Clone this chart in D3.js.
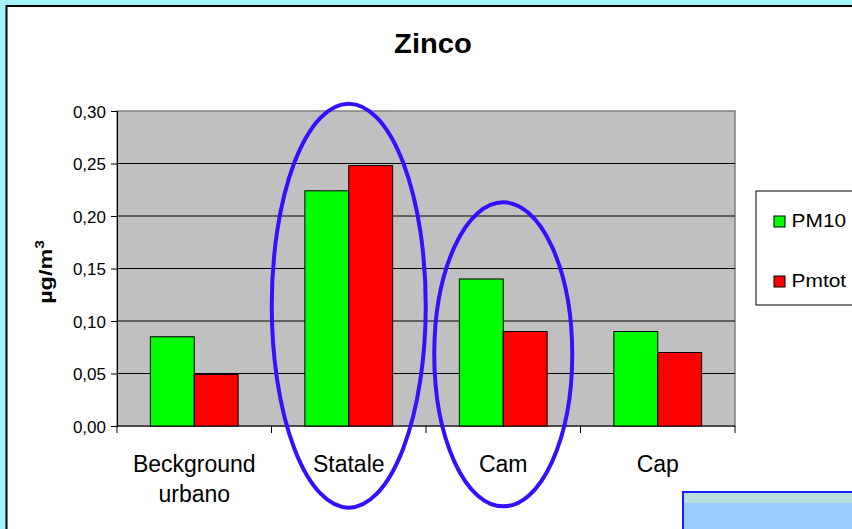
<!DOCTYPE html>
<html>
<head>
<meta charset="utf-8">
<script src="https://cdn.jsdelivr.net/npm/d3@7"></script>
<style>
  body { margin: 0; background: #a4f4fc; }
  svg { display: block; font-family: Arial, "Liberation Sans", sans-serif; }
</style>
</head>
<body>
<svg width="852" height="529"></svg>
<script>
const categories = [["Beckground", "urbano"], ["Statale"], ["Cam"], ["Cap"]];
const seriesNames = ["PM10", "Pmtot"];
const pm10 = [0.085, 0.224, 0.14, 0.09];
const pmtot = [0.049, 0.248, 0.09, 0.07];
const yTicks = [0, 0.05, 0.10, 0.15, 0.20, 0.25, 0.30];
const colors = ["#00ff00", "#ff0000"];
const highlighted = [1, 2]; // Statale, Cam

const width = 852, height = 529;
const margin = { top: 111, left: 117, right: 117, bottom: 103 };

const svg = d3.select("svg");

// outer frame
svg.append("rect").attr("width", width).attr("height", height).attr("fill", "#a4f4fc");
svg.append("rect")
  .attr("x", 6.5).attr("y", 6).attr("width", width).attr("height", height)
  .attr("fill", "#fff").attr("stroke", "#000").attr("stroke-width", 2);

// title
svg.append("text")
  .attr("x", 433).attr("y", 53)
  .attr("text-anchor", "middle")
  .attr("transform", "translate(433,0) scale(1.08,1) translate(-433,0)")
  .style("font-size", "27px").style("font-weight", "bold")
  .text("Zinco");

const x0 = d3.scaleBand()
  .domain(d3.range(categories.length))
  .range([margin.left, width - margin.right]);

const x1 = d3.scaleBand()
  .domain(d3.range(seriesNames.length))
  .range([0, x0.bandwidth()])
  .paddingOuter(0.76)
  .paddingInner(0);

const y = d3.scaleLinear()
  .domain([0, 0.30])
  .range([height - margin.bottom, margin.top]);

// plot area
svg.append("rect")
  .attr("x", x0.range()[0]).attr("y", y(0.30))
  .attr("width", x0.range()[1] - x0.range()[0]).attr("height", y(0) - y(0.30))
  .attr("fill", "#c0c0c0").attr("stroke", "#808080").attr("stroke-width", 1.5);

// gridlines
svg.append("g").selectAll("line")
  .data(yTicks.filter(d => d > 0 && d < 0.30))
  .join("line")
  .attr("x1", x0.range()[0]).attr("x2", x0.range()[1])
  .attr("y1", d => y(d)).attr("y2", d => y(d))
  .attr("stroke", "#000").attr("stroke-width", 1);

// y axis
const yAxis = d3.axisLeft(y)
  .tickValues(yTicks)
  .tickSize(6)
  .tickPadding(5)
  .tickFormat(d => d3.format(".2f")(d).replace(".", ","));

svg.append("g")
  .attr("transform", `translate(${margin.left},0)`)
  .call(yAxis)
  .call(g => g.selectAll("text").style("font-size", "17px").attr("fill", "#000").attr("dy", "0.36em"))
  .call(g => g.selectAll("line, path").attr("stroke", "#000"));

// x axis
const xAxisG = svg.append("g")
  .attr("transform", `translate(0,${y(0)})`);
xAxisG.append("line")
  .attr("x1", x0.range()[0]).attr("x2", x0.range()[1])
  .attr("stroke", "#000");
xAxisG.selectAll(".tick")
  .data(d3.range(categories.length + 1))
  .join("line")
  .attr("x1", i => x0.range()[0] + i * x0.step())
  .attr("x2", i => x0.range()[0] + i * x0.step())
  .attr("y1", 0).attr("y2", 7)
  .attr("stroke", "#000");

xAxisG.selectAll("text.cat")
  .data(categories)
  .join("text")
  .attr("class", "cat")
  .attr("x", (d, i) => x0(i) + x0.bandwidth() / 2)
  .attr("y", 46)
  .attr("text-anchor", "middle")
  .style("font-size", "23px")
  .selectAll("tspan")
  .data(d => d)
  .join("tspan")
  .attr("x", function() { return this.parentNode.getAttribute("x"); })
  .attr("dy", (d, i) => i === 0 ? 0 : 30)
  .text(d => d);

// y label
svg.append("text")
  .attr("transform", "translate(52,272) rotate(-90) scale(1.3,1)")
  .attr("text-anchor", "middle")
  .style("font-size", "18px").style("font-weight", "bold")
  .text("µg/m")
  .append("tspan")
  .attr("dy", -8).style("font-size", "12px")
  .text("3");

// bars
const values = [pm10, pmtot];
svg.append("g").selectAll("g")
  .data(categories.map((c, i) => i))
  .join("g")
  .attr("transform", i => `translate(${x0(i)},0)`)
  .selectAll("rect")
  .data(i => values.map((v, s) => ({ s, v: v[i] })))
  .join("rect")
  .attr("x", d => x1(d.s))
  .attr("width", x1.bandwidth())
  .attr("y", d => y(d.v))
  .attr("height", d => y(0) - y(d.v))
  .attr("fill", d => colors[d.s])
  .attr("stroke", "#000").attr("stroke-width", 1);

// legend
const legend = svg.append("g").attr("transform", "translate(756,191)");
legend.append("rect")
  .attr("width", 110).attr("height", 114)
  .attr("fill", "#fff").attr("stroke", "#000").attr("stroke-width", 1);
const li = legend.selectAll("g")
  .data(seriesNames)
  .join("g")
  .attr("transform", (d, i) => `translate(18,${25 + i * 60})`);
li.append("rect")
  .attr("width", 11).attr("height", 11)
  .attr("fill", (d, i) => colors[i]).attr("stroke", "#000");
li.append("text")
  .attr("x", 16).attr("y", 11)
  .attr("transform", "scale(1.1,1)")
  .style("font-size", "19px")
  .text(d => d);

// highlight ellipses
const ellipseSizes = [{ ry: 202, top: 0.307 }, { ry: 152, top: 0.213 }];
svg.append("g").selectAll("ellipse")
  .data(highlighted)
  .join("ellipse")
  .attr("cx", i => x0(i) + x0.bandwidth() / 2)
  .attr("cy", (i, k) => y(ellipseSizes[k].top) + ellipseSizes[k].ry)
  .attr("rx", (i, k) => k === 0 ? 77 : 69)
  .attr("ry", (i, k) => ellipseSizes[k].ry)
  .attr("fill", "none")
  .attr("stroke", "#3311ff").attr("stroke-width", 4);

// bottom-right box
svg.append("rect")
  .attr("x", 683).attr("y", 492).attr("width", 200).attr("height", 60)
  .attr("fill", "#99ccff").attr("stroke", "#1a1aff").attr("stroke-width", 2);
svg.append("rect")
  .attr("x", 684).attr("y", 493).attr("width", 200).attr("height", 10)
  .attr("fill", "#b8e0e0");
</script>
</body>
</html>
